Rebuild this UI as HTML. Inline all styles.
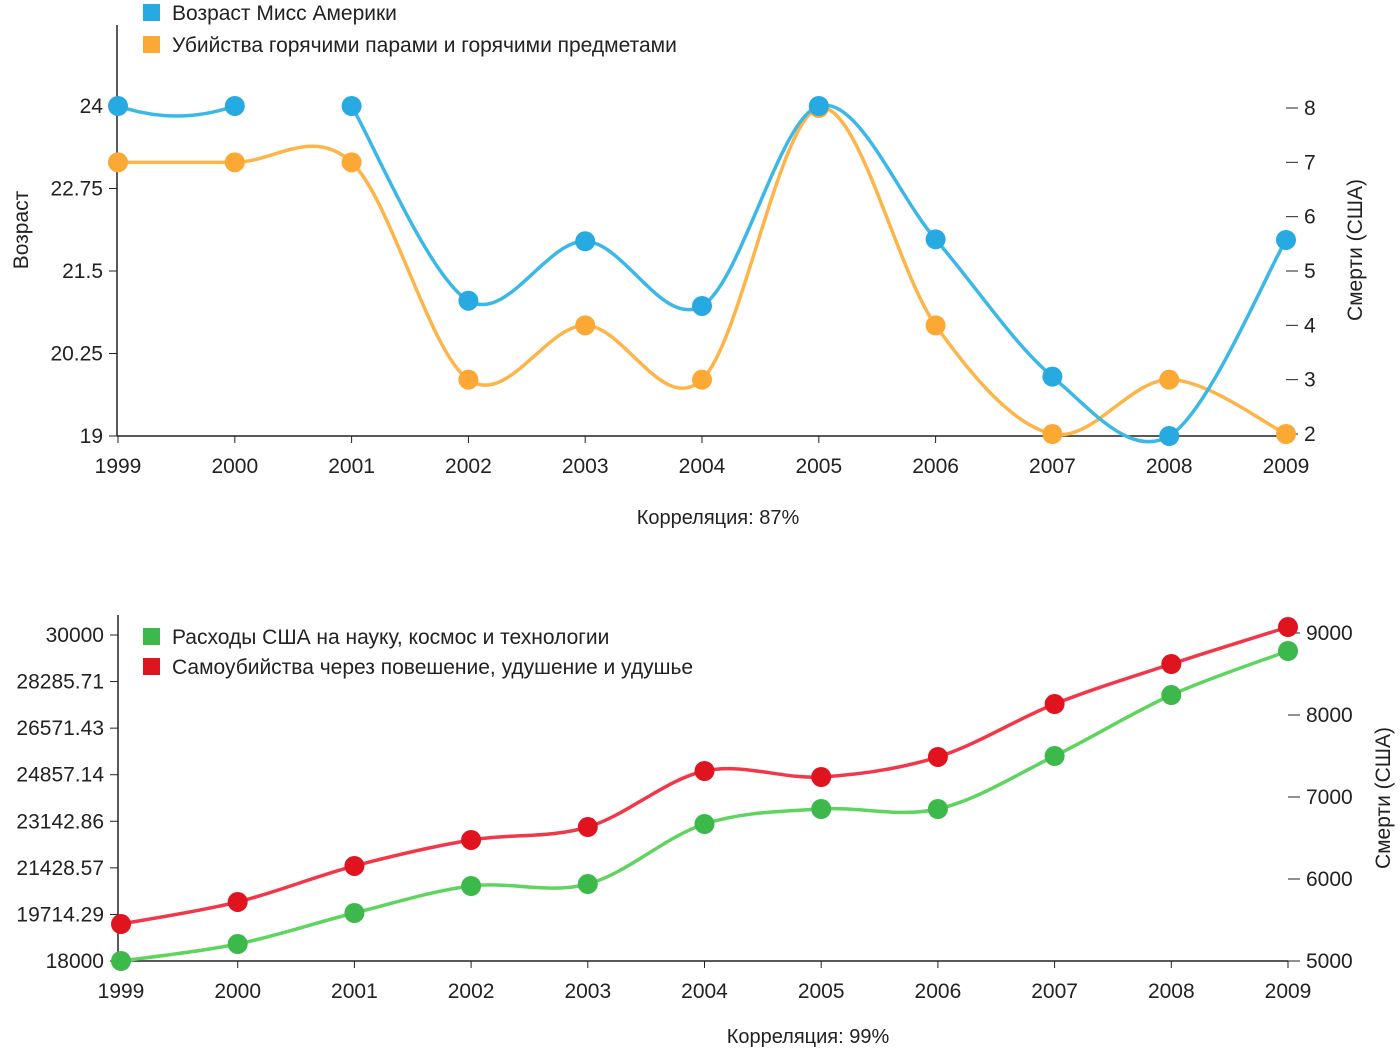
<!DOCTYPE html>
<html><head><meta charset="utf-8"><style>
body{margin:0;background:#fff;font-family:"Liberation Sans","DejaVu Sans",sans-serif;}
svg text{font-family:"Liberation Sans","DejaVu Sans",sans-serif;fill:#222;}
</style></head><body>
<svg id="c" width="1400" height="1050" xmlns="http://www.w3.org/2000/svg"></svg>
<script>
const years=["1999","2000","2001","2002","2003","2004","2005","2006","2007","2008","2009"];
const missAge=[24,24,24,21.05,21.95,20.97,24,21.98,19.9,19,21.97];
const hotDeaths=[7,7,7,3,4,3,8,4,2,3,2];
const spending=[18000,18626,19767,20761,20834,23043,23595,23595,25546,27791,29411];
const suicides=[5451,5720,6159,6476,6634,7317,7244,7488,8134,8622,9073];
const topLeftTicks=["19","20.25","21.5","22.75","24"];
const topRightTicks=["2","3","4","5","6","7","8"];
const botLeftTicks=["18000","19714.29","21428.57","23142.86","24857.14","26571.43","28285.71","30000"];
const botRightTicks=["5000","6000","7000","8000","9000"];
const NS="http://www.w3.org/2000/svg";
const svg=document.getElementById('c');
function mk(t,a,p){const e=document.createElementNS(NS,t);for(const k in a)e.setAttribute(k,a[k]);(p||svg).appendChild(e);return e;}
function txt(s,a,name,p){const e=mk('text',a,p);e.textContent=s;return e;}
function lin(d0,d1,r0,r1){return v=>r0+(v-d0)/(d1-d0)*(r1-r0);}
function crPath(pts){let d='';
 for(let i=0;i<pts.length;i++){const p=pts[i];if(i==0){d+='M'+p[0]+','+p[1];continue;}
  const p0=pts[i-2]||pts[i-1],p1=pts[i-1],p2=p,p3=pts[i+1]||p;
  const c1=[p1[0]+(p2[0]-p0[0])/6,p1[1]+(p2[1]-p0[1])/6],c2=[p2[0]-(p3[0]-p1[0])/6,p2[1]-(p3[1]-p1[1])/6];
  d+='C'+c1+' '+c2+' '+p2;}
 return d;}
function series(vals,x,y,lineCol,dotCol,name,breakAfter){
 const g=mk('g',{});
 let segs=[[]];vals.forEach((v,i)=>{if(v==null){segs.push([]);return;}segs[segs.length-1].push([x(i),y(v)]);if(breakAfter&&breakAfter.includes(i))segs.push([]);});
 segs.forEach(s=>{if(s.length>1){let d=crPath(s);
   if(s.length==2&&s[0][1]==s[1][1]){const mx=(s[0][0]+s[1][0])/2;d='M'+s[0]+'Q'+mx+','+(s[0][1]+20)+' '+s[1];}
   const p=mk('path',{d:d,fill:'none',stroke:lineCol,'stroke-width':3.5},g);}});
 vals.forEach((v,i)=>{if(v==null)return;const c=mk('circle',{cx:x(i),cy:y(v),r:10,fill:dotCol},g);});
}
function axes(o){
 mk('line',{x1:o.xl,y1:o.yt,x2:o.xl,y2:o.yb,stroke:'#222','stroke-width':1.5});
 mk('line',{x1:o.xl,y1:o.yb,x2:o.xr,y2:o.yb,stroke:'#222','stroke-width':1.5});
 o.lt.forEach(t=>{const yy=o.yl(+t);mk('line',{x1:o.xl-8,y1:yy,x2:o.xl,y2:yy,stroke:'#222'});txt(t,{x:o.xl-14,y:yy+7,'text-anchor':'end','font-size':21},'left-tick-'+t);});
 o.rt.forEach(t=>{const yy=o.yr(+t);mk('line',{x1:o.xr,y1:yy,x2:o.xr+12,y2:yy,stroke:'#222'});txt(t,{x:o.xr+18,y:yy+7,'font-size':21},'right-tick-'+t);});
 years.forEach((t,i)=>{const xx=o.x(i);mk('line',{x1:xx,y1:o.yb,x2:xx,y2:o.yb+7,stroke:'#222'});txt(t,{x:xx,y:o.yb+37,'text-anchor':'middle','font-size':21},'x-tick-'+t);});
}
// top
const xT=i=>lin(0,10,118,1286)(i);
const yTL=lin(19,24,436,106), yTR=lin(2,8,434,108);
axes({xl:117,xr:1286,yt:25,yb:436,x:xT,yl:yTL,yr:yTR,lt:topLeftTicks,rt:topRightTicks});
series(hotDeaths,xT,yTR,'#fdb54a','#fba834','hot-deaths-series');
series(missAge,xT,yTL,'#3bb8e6','#27a9e1','miss-age-series',[1]);
txt('Возраст',{transform:'translate(28,230) rotate(-90)','text-anchor':'middle','font-size':21},'left-axis-title');
txt('Смерти (США)',{transform:'translate(1362,250) rotate(-90)','text-anchor':'middle','font-size':21},'right-axis-title');
mk('rect',{x:143,y:4,width:17,height:17,fill:'#27a9e1'});
txt('Возраст Мисс Америки',{x:172,y:20,'font-size':21},'legend-miss-age');
mk('rect',{x:143,y:36,width:17,height:17,fill:'#fba834'});
txt('Убийства горячими парами и горячими предметами',{x:172,y:52,'font-size':21},'legend-hot-deaths');
txt('Корреляция: 87%',{x:718,y:524,'text-anchor':'middle','font-size':20},'correlation-top');
// bottom
const xB=i=>lin(0,10,121,1288)(i);
const yBL=lin(18000,30000,961,635), yBR=lin(5000,9000,961,633);
axes({xl:118,xr:1288,yt:615,yb:961,x:xB,yl:yBL,yr:yBR,lt:botLeftTicks,rt:botRightTicks});
series(spending,xB,yBL,'#5fd45f','#3cb94a','spending-series');
series(suicides,xB,yBR,'#f0384a','#e0141f','suicides-series');
txt('Смерти (США)',{transform:'translate(1390,798) rotate(-90)','text-anchor':'middle','font-size':21},'right-axis-title-bottom');
mk('rect',{x:143,y:628,width:17,height:17,fill:'#3cb94a'});
txt('Расходы США на науку, космос и технологии',{x:172,y:644,'font-size':21},'legend-spending');
mk('rect',{x:143,y:658,width:17,height:17,fill:'#e0141f'});
txt('Самоубийства через повешение, удушение и удушье',{x:172,y:674,'font-size':21},'legend-suicides');
txt('Корреляция: 99%',{x:808,y:1043,'text-anchor':'middle','font-size':20},'correlation-bottom');
</script>
</body></html>
